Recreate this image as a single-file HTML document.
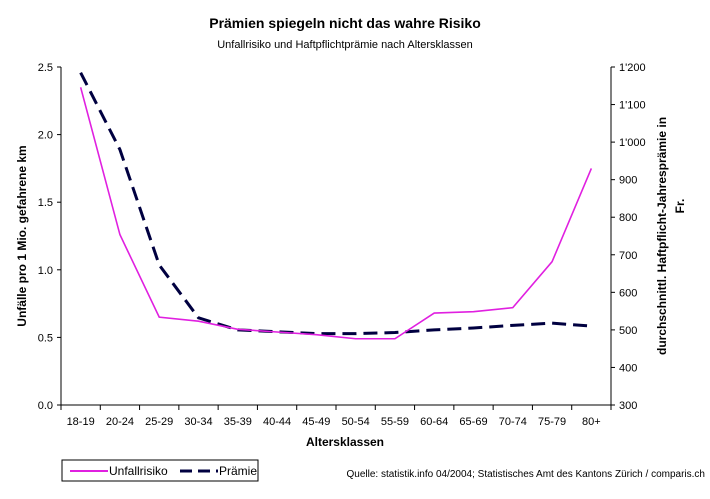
<!DOCTYPE html>
<html><head><meta charset="utf-8"><style>
body{margin:0;background:#fff;font-family:"Liberation Sans",sans-serif}
svg text{font-family:"Liberation Sans",sans-serif}
</style></head><body>
<svg width="710" height="494" xmlns="http://www.w3.org/2000/svg">
<text x="345" y="28" text-anchor="middle" font-size="14" font-weight="bold" fill="#000">Prämien spiegeln nicht das wahre Risiko</text>
<text x="345" y="48" text-anchor="middle" font-size="11" fill="#000">Unfallrisiko und Haftpflichtprämie nach Altersklassen</text>
<g id="axes"></g>
<g id="marks"></g>
<text x="345" y="446" text-anchor="middle" font-size="12" font-weight="bold">Altersklassen</text>
<text transform="translate(26,236) rotate(-90)" text-anchor="middle" font-size="12" font-weight="bold">Unfälle pro 1 Mio. gefahrene km</text>
<text transform="translate(666,236) rotate(-90)" text-anchor="middle" font-size="12" font-weight="bold">durchschnittl. Haftpflicht-Jahresprämie in</text>
<text transform="translate(684,206) rotate(-90)" text-anchor="middle" font-size="12" font-weight="bold">Fr.</text>
<g>
<rect x="62" y="460" width="196" height="21" fill="#fff" stroke="#000" stroke-width="1"/>
<line x1="70" y1="471" x2="108" y2="471" stroke="#e020e0" stroke-width="2"/>
<text x="109" y="475" font-size="12">Unfallrisiko</text>
<line x1="180" y1="471" x2="218" y2="471" stroke="#000040" stroke-width="3" stroke-dasharray="12,6"/>
<text x="219" y="475" font-size="12">Prämie</text>
</g>
<text x="705" y="477" text-anchor="end" font-size="10">Quelle: statistik.info 04/2004; Statistisches Amt des Kantons Zürich / comparis.ch</text>
</svg>
<script>
const categories=["18-19","20-24","25-29","30-34","35-39","40-44","45-49","50-54","55-59","60-64","65-69","70-74","75-79","80+"];
const unfall=[2.35,1.26,0.65,0.62,0.56,0.54,0.52,0.49,0.49,0.68,0.69,0.72,1.06,1.75];
const praemie=[1185,980,673,532,500,495,490,490,493,500,505,512,518,510];
const leftTicks=["0.0","0.5","1.0","1.5","2.0","2.5"];
const rightTicks=["300","400","500","600","700","800","900","1'000","1'100","1'200"];
const NS="http://www.w3.org/2000/svg";
const L=61,R=611,T=67,B=405;
const bw=(R-L)/categories.length;
const xs=i=>L+bw*(i+0.5);
const yl=v=>B-(v/2.5)*(B-T);
const yr=v=>B-((v-300)/900)*(B-T);
function mk(t,a,p){const e=document.createElementNS(NS,t);for(const k in a)e.setAttribute(k,a[k]);p.appendChild(e);return e;}
const ax=document.getElementById('axes'),mg=document.getElementById('marks');
let e=mk('line',{x1:L,y1:T,x2:L,y2:B,stroke:'#000'},ax);


e=mk('line',{x1:R,y1:T,x2:R,y2:B,stroke:'#000'},ax);


e=mk('line',{x1:L,y1:B,x2:R,y2:B,stroke:'#000'},ax);


leftTicks.forEach(t=>{const y=yl(parseFloat(t));
mk('line',{x1:L-4,y1:y,x2:L,y2:y,stroke:'#000'},ax);
const tx=mk('text',{x:L-8,y:y+4,'text-anchor':'end','font-size':11},ax);tx.textContent=t;

});
rightTicks.forEach(t=>{const y=yr(parseFloat(t.replace("'","")));
mk('line',{x1:R,y1:y,x2:R+4,y2:y,stroke:'#000'},ax);
const tx=mk('text',{x:R+8,y:y+4,'font-size':11},ax);tx.textContent=t;

});
for(let i=0;i<=categories.length;i++){const x=L+bw*i;mk('line',{x1:x,y1:B,x2:x,y2:B+5,stroke:'#000'},ax);}
categories.forEach((c,i)=>{const tx=mk('text',{x:xs(i),y:B+20,'text-anchor':'middle','font-size':11},ax);tx.textContent=c;

});
e=mk('polyline',{points:praemie.map((v,i)=>xs(i)+','+yr(v)).join(' '),fill:'none',stroke:'#000040','stroke-width':3,'stroke-dasharray':'14,7'},mg);


e=mk('polyline',{points:unfall.map((v,i)=>xs(i)+','+yl(v)).join(' '),fill:'none',stroke:'#e020e0','stroke-width':1.6},mg);


</script>
</body></html>
